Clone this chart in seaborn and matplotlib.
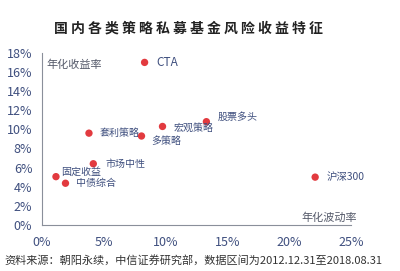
import matplotlib
matplotlib.use("Agg")
import matplotlib.pyplot as plt
import seaborn as sns
import pandas as pd
from matplotlib.ticker import FuncFormatter

strategies = ["CTA", "套利策略", "多策略", "宏观策略", "股票多头", "市场中性", "固定收益", "中债综合", "沪深300"]
volatility = [8.3, 3.8, 8.05, 9.75, 13.3, 4.15, 1.13, 1.9, 22.1]
returns = [17.0, 9.6, 9.3, 10.3, 10.8, 6.4, 5.05, 4.36, 5.0]
x_ticks = [0, 5, 10, 15, 20, 25]
y_ticks = [0, 2, 4, 6, 8, 10, 12, 14, 16, 18]

# label offsets in pixels (dx, dy)
offsets = {"CTA": (12, 0), "套利策略": (11, 0), "多策略": (10, -5), "宏观策略": (11, -1),
           "股票多头": (11, 5), "市场中性": (12, 0), "固定收益": (5, 5), "中债综合": (11, 0),
           "沪深300": (11, 0)}

sns.set_theme(style="white")
plt.rcParams['font.family'] = ['Noto Sans CJK SC', 'DejaVu Sans']

df = pd.DataFrame({"strategy": strategies, "vol": volatility, "ret": returns})

fig = plt.figure(figsize=(4.0, 2.71), dpi=100)
ax = fig.add_axes([0.105, 0.17, 0.7725, 0.635])

navy = "#3f4f7e"
red = "#e23a3f"
sns.scatterplot(data=df, x="vol", y="ret", ax=ax, color=red, s=28, edgecolor="none", zorder=3)

for s, xv, yv in zip(strategies, volatility, returns):
    dx, dy = offsets[s]
    fs = 8.5 if s == "CTA" else (7.5 if s == "沪深300" else 7.2)
    ax.annotate(s, (xv, yv), xytext=(dx, dy), textcoords="offset pixels",
                ha="left", va="center", fontsize=fs, color=navy)

ax.set_xlim(0, 25)
ax.set_ylim(0, 18)
ax.set_xticks(x_ticks)
ax.set_yticks(y_ticks)
ax.xaxis.set_major_formatter(FuncFormatter(lambda v, p: f"{v:.0f}%"))
ax.yaxis.set_major_formatter(FuncFormatter(lambda v, p: f"{v:.0f}%"))
ax.set_xlabel("")
ax.set_ylabel("")
for side in ["top", "right"]:
    ax.spines[side].set_visible(False)
for side in ["left", "bottom"]:
    ax.spines[side].set_color("#8a8f9a")
    ax.spines[side].set_linewidth(0.8)
ax.tick_params(axis="both", direction="out", length=3, width=0.8, color="#8a8f9a",
               labelsize=9, labelcolor=navy, pad=4)
ax.tick_params(axis="x", pad=5)

ax.text(0.015, 0.93, "年化收益率", transform=ax.transAxes, fontsize=8, color="#555a6a",
        ha="left", va="center")
ax.text(0.93, 0.045, "年化波动率", transform=ax.transAxes, fontsize=8, color="#555a6a",
        ha="center", va="center")

fig.text(0.47, 0.895, " ".join("国内各类策略私募基金风险收益特征"), ha="center", va="center",
         fontsize=10, fontweight="bold", color="#222222")
fig.text(0.012, 0.04, "资料来源：朝阳永续，中信证券研究部，数据区间为2012.12.31至2018.08.31",
         ha="left", va="center", fontsize=8, color="#333333")

fig.savefig("out.png", dpi=100)
